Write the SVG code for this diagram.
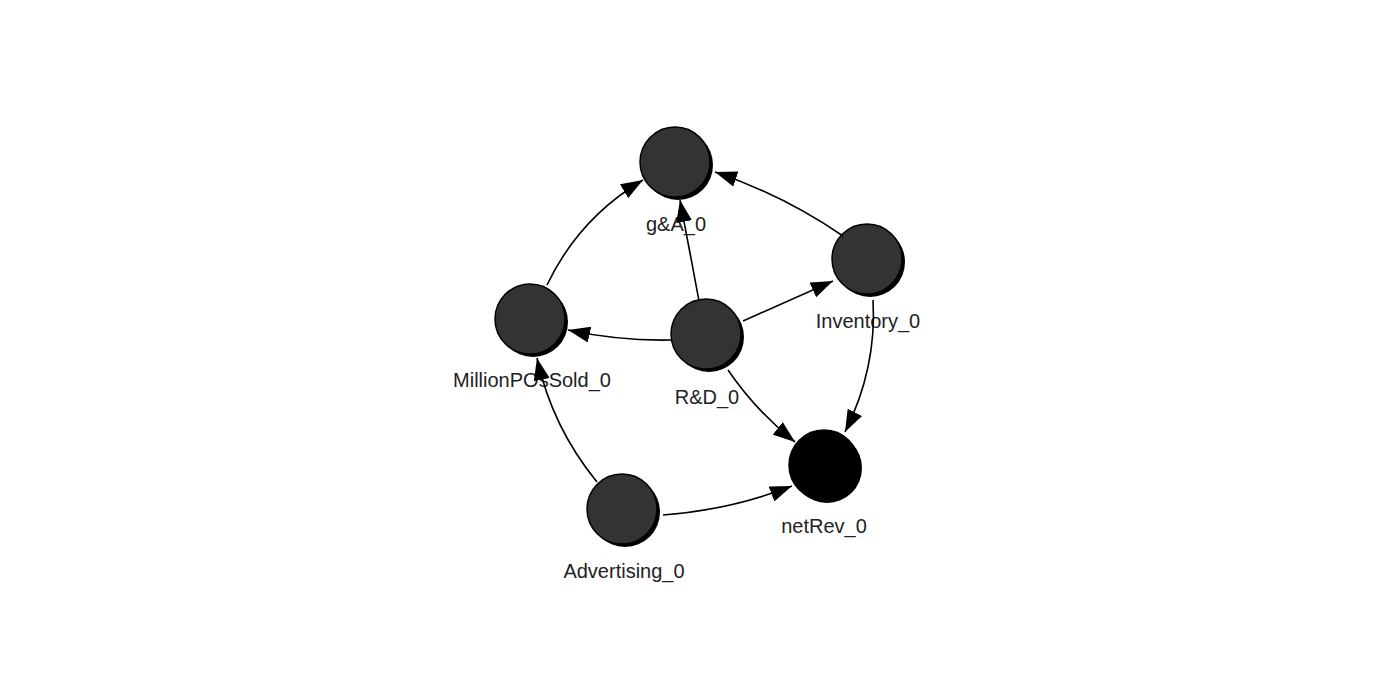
<svg xmlns="http://www.w3.org/2000/svg" width="1400" height="693" viewBox="0 0 1400 693">
<style>
.shadow{fill:#000;}
.node{fill:#333333;stroke:#000;stroke-width:1.5;}
.target{fill:#000;stroke:#000;stroke-width:1.5;}
.label{font-family:"Liberation Sans",Arial,sans-serif;font-size:20px;fill:#222;text-anchor:middle;}
.edge{fill:none;stroke:#000;stroke-width:1.6;marker-end:url(#arrow);}
</style>
<defs>
<marker id="arrow" markerUnits="userSpaceOnUse" markerWidth="22" markerHeight="16" refX="22" refY="8" orient="auto">
<path d="M0,0 L22,8 L0,16 Z" fill="#000"/>
</marker>
</defs>
<rect width="1400" height="693" fill="#fff"/>
<g id="node-gA">
<circle class="shadow" cx="678" cy="165" r="35"/>
<circle class="node" cx="675" cy="162" r="35"/>
<text class="label" x="676" y="231">g&amp;A_0</text>
</g>
<g id="node-Inventory">
<circle class="shadow" cx="870" cy="262" r="35"/>
<circle class="node" cx="867" cy="259" r="35"/>
<text class="label" x="868" y="328">Inventory_0</text>
</g>
<g id="node-RD">
<circle class="shadow" cx="709" cy="337" r="35"/>
<circle class="node" cx="706" cy="334" r="35"/>
<text class="label" x="707" y="404">R&amp;D_0</text>
</g>
<g id="node-MillionPOsSold">
<circle class="shadow" cx="533" cy="322" r="35"/>
<circle class="node" cx="530" cy="319" r="35"/>
<text class="label" x="532" y="387">MillionPOsSold_0</text>
</g>
<g id="node-Advertising">
<circle class="shadow" cx="625" cy="512" r="35"/>
<circle class="node" cx="622" cy="509" r="35"/>
<text class="label" x="624" y="578">Advertising_0</text>
</g>
<g id="node-netRev">
<circle class="shadow" cx="827" cy="468" r="35"/>
<circle class="target" cx="824" cy="465" r="35"/>
<text class="label" x="824" y="533">netRev_0</text>
</g>
<g id="connectors">
<path class="edge" d="M699,301 L680,200"/>
<path class="edge" d="M743,321 L833,281"/>
<path class="edge" d="M671,340 Q619,341 568,330"/>
<path class="edge" d="M728,370 Q756,411 795,442"/>
<path class="edge" d="M873,300 Q877,368 845,432"/>
<path class="edge" d="M843,236 Q783,195 715,172"/>
<path class="edge" d="M547,285 Q579,218 643,180"/>
<path class="edge" d="M597,482 Q552,427 537,358"/>
<path class="edge" d="M663,515 Q730,510 792,486"/>
</g>
</svg>
